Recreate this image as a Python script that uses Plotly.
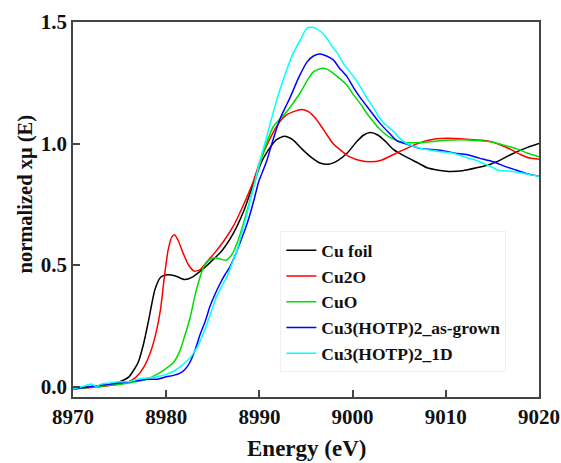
import plotly.graph_objects as go

# ---- data ----
cu_foil_E = [8970, 8972, 8974, 8975, 8976, 8977, 8977.6, 8978.1, 8978.8, 8979.4, 8980.1, 8981, 8982, 8982.8,
             8983.5, 8984.7, 8986, 8987.2, 8988.3, 8989.4, 8990.3, 8990.9, 8991.8, 8992.7, 8993.6, 8994.5,
             8995.5, 8996.5, 8997.4, 8998.4, 8999.4, 9000.5, 9001.2, 9001.9, 9002.7, 9003.5, 9004.4, 9005.5,
             9007, 9008, 9009.2, 9010.3, 9011.8, 9013.3, 9014.8, 9016, 9017, 9018.5, 9020]
cu_foil_mu = [-0.01, 0.0, 0.01, 0.02, 0.04, 0.1, 0.18, 0.27, 0.40, 0.45, 0.46, 0.455, 0.44, 0.45,
              0.47, 0.51, 0.56, 0.63, 0.72, 0.84, 0.93, 0.97, 1.015, 1.03, 1.015, 0.98,
              0.945, 0.92, 0.915, 0.93, 0.96, 1.01, 1.035, 1.045, 1.035, 1.01, 0.975, 0.95,
              0.92, 0.90, 0.89, 0.885, 0.888, 0.90, 0.915, 0.935, 0.955, 0.98, 1.0]

cu2o_E = [8970, 8973, 8975, 8976, 8976.8, 8977.6, 8978.3, 8978.9, 8979.4, 8979.8, 8980.2, 8980.6, 8980.9,
          8981.3, 8981.8, 8982.4, 8983, 8983.6, 8984.3, 8985.2, 8986.2, 8987.2, 8988.2, 8989.3, 8990.1,
          8991, 8992, 8992.8, 8993.6, 8994.6, 8995.3, 8996.1, 8997, 8997.9, 8998.8, 8999.7, 9000.8,
          9001.9, 9003, 9004.4, 9005.8, 9007, 9008, 9009, 9010.1, 9011.5, 9013, 9014.5, 9015.8, 9017,
          9018, 9019, 9020]
cu2o_mu = [-0.01, 0.0, 0.01, 0.02, 0.04, 0.08, 0.14, 0.22, 0.32, 0.45, 0.56, 0.615, 0.625,
           0.60, 0.55, 0.50, 0.475, 0.48, 0.51, 0.55, 0.60, 0.66, 0.74, 0.84, 0.93,
           1.01, 1.08, 1.115, 1.13, 1.14, 1.13, 1.10, 1.05, 1.0, 0.97, 0.945, 0.93,
           0.925, 0.93, 0.955, 0.98, 1.0, 1.012, 1.02, 1.022, 1.02, 1.015, 1.01, 0.995, 0.975,
           0.955, 0.94, 0.935]

cuo_E = [8970, 8974, 8976, 8977.9, 8979, 8980, 8980.8, 8981.5, 8982, 8982.55, 8983, 8983.4, 8984, 8984.6,
         8985.2, 8985.8, 8986.4, 8987, 8987.6, 8988.2, 8988.8, 8989.5, 8990.4, 8991.5, 8992.9, 8994.4,
         8995.3, 8995.8, 8996.7, 8997.3, 8997.9, 8998.7, 8999.4, 9000.1, 9000.8, 9001.8, 9002.9, 9004,
         9005.4, 9007, 9008.5, 9010, 9011.5, 9013.3, 9015.1, 9016.5, 9017.6, 9018.8, 9020]
cuo_mu = [-0.01, 0.005, 0.015, 0.03, 0.05, 0.075, 0.10, 0.15, 0.21, 0.28, 0.36, 0.42, 0.49, 0.52,
          0.53, 0.525, 0.52, 0.54, 0.59, 0.66, 0.74, 0.84, 0.96, 1.07, 1.13, 1.21,
          1.27, 1.295, 1.31, 1.305, 1.29, 1.265, 1.24, 1.20, 1.165, 1.11, 1.06, 1.025,
          1.005, 1.003, 1.008, 1.013, 1.015, 1.012, 1.005, 0.99, 0.978, 0.96, 0.945]

asgrown_E = [8970, 8971, 8972, 8973, 8974, 8975, 8976, 8977, 8978, 8979, 8980, 8980.7, 8981.5, 8982,
             8982.55, 8983.1, 8983.6, 8984.2, 8984.7, 8985.3, 8985.8, 8986.3, 8986.8, 8987.4, 8987.9,
             8988.5, 8989, 8989.5, 8989.9, 8990.4, 8990.8, 8991.5, 8992.2, 8992.8, 8993.3, 8994.2,
             8995.1, 8995.8, 8996.5, 8997.2, 8997.9, 8998.6, 8999.4, 9000.1, 9000.8, 9001.8, 9002.9,
             9004, 9004.8, 9005.6, 9006.4, 9007.2, 9008.5, 9009.7, 9011, 9012.2, 9013.6, 9015.1,
             9016.4, 9017.6, 9018.8, 9020]
asgrown_mu = [-0.01, -0.005, 0.0, 0.005, 0.01, 0.015, 0.02, 0.025, 0.03, 0.03, 0.04, 0.045, 0.055, 0.07,
              0.10, 0.15, 0.21, 0.27, 0.33, 0.385, 0.425, 0.46, 0.49, 0.54, 0.59,
              0.65, 0.71, 0.78, 0.84, 0.89, 0.93, 1.02, 1.10, 1.15, 1.19, 1.27,
              1.335, 1.36, 1.368, 1.36, 1.345, 1.31, 1.275, 1.23, 1.19, 1.14, 1.085,
              1.04, 1.01, 1.0, 0.99, 0.98, 0.975, 0.97, 0.96, 0.955, 0.94, 0.925,
              0.905, 0.89, 0.875, 0.865]

oned_E = [8970, 8971, 8972, 8972.5, 8973, 8974, 8975, 8976, 8977, 8978, 8979, 8980, 8980.9, 8981.8,
          8982.6, 8983.3, 8983.9, 8984.4, 8984.9, 8985.4, 8986, 8986.5, 8987, 8987.6, 8988.1, 8988.6,
          8989.1, 8989.5, 8990, 8990.8, 8991.5, 8992.2, 8992.9, 8993.6, 8994.3, 8995.1, 8995.6, 8996,
          8996.6, 8997.2, 8997.8, 8998.4, 8999, 8999.6, 9000.2, 9000.8, 9001.5, 9002.2, 9002.9, 9003.6,
          9004.4, 9005.1, 9005.8, 9006.8, 9007.95, 9009.3, 9010.8, 9012, 9013.3, 9014.2, 9015.1,
          9015.6, 9016.3, 9017.2, 9018, 9019, 9020]
oned_mu = [-0.01, 0.0, 0.01, 0.0, 0.01, 0.015, 0.02, 0.02, 0.03, 0.035, 0.04, 0.05, 0.065, 0.09,
           0.12, 0.16, 0.21, 0.26, 0.315, 0.37, 0.415, 0.45, 0.50, 0.56, 0.63, 0.70,
           0.78, 0.84, 0.92, 1.03, 1.13, 1.22, 1.30, 1.37, 1.42, 1.475, 1.478, 1.475,
           1.46, 1.435, 1.40, 1.37, 1.33, 1.30, 1.27, 1.235, 1.19, 1.15, 1.105, 1.075,
           1.05, 1.02, 1.0, 0.985, 0.975, 0.967, 0.96, 0.945, 0.93, 0.915, 0.90,
           0.89, 0.888, 0.885, 0.88, 0.872, 0.865]

series = [
    ("Cu foil", cu_foil_E, cu_foil_mu, "#000000"),
    ("Cu2O", cu2o_E, cu2o_mu, "#ff0000"),
    ("CuO", cuo_E, cuo_mu, "#00dd00"),
    ("Cu3(HOTP)2_as-grown", asgrown_E, asgrown_mu, "#0000ff"),
    ("Cu3(HOTP)2_1D", oned_E, oned_mu, "#00ffff"),
]

x_ticks = [8970, 8980, 8990, 9000, 9010, 9020]
y_ticks = [0.0, 0.5, 1.0, 1.5]
y_tick_text = ["0.0", "0.5", "1.0", "1.5"]

FONT = "Liberation Serif"
TXT = "#111111"

fig = go.Figure()
for name, E, mu, col in series:
    fig.add_trace(go.Scatter(x=E, y=mu, mode="lines", name=name,
                             line=dict(color=col, width=1.5, shape="spline", smoothing=0.6)))

axis_common = dict(showline=True, linecolor="#444444", linewidth=1.5, mirror=True,
                   ticks="inside", ticklen=7, tickwidth=1.5, tickcolor="#444444",
                   showgrid=False, zeroline=False, automargin=False,
                   tickfont=dict(family=FONT, size=21, color=TXT, weight="bold"))

fig.update_xaxes(range=[8970, 9020], tickvals=x_ticks, ticktext=[str(v) for v in x_ticks],
                 **axis_common)
fig.update_yaxes(range=[-0.043, 1.5], tickvals=y_ticks, ticktext=y_tick_text,
                 **axis_common)

fig.add_annotation(text="normalized xμ (E)", textangle=-90,
                   xref="paper", yref="paper", x=-0.103, y=0.54,
                   xanchor="center", yanchor="middle", showarrow=False,
                   font=dict(family=FONT, size=20.5, color=TXT, weight="bold"))
fig.add_annotation(text="Energy (eV)",
                   xref="paper", yref="paper", x=0.5, y=-0.136,
                   xanchor="center", yanchor="middle", showarrow=False,
                   font=dict(family=FONT, size=23, color=TXT, weight="bold"))

fig.update_layout(
    width=561, height=463,
    margin=dict(l=73, r=22, t=22, b=66, autoexpand=False),
    paper_bgcolor="white", plot_bgcolor="white",
    font=dict(family=FONT, size=19, color=TXT),
    legend=dict(x=0.445, y=0.442, xanchor="left", yanchor="top",
                bgcolor="rgba(255,255,255,0)", bordercolor="#f0f0f0", borderwidth=1,
                font=dict(family=FONT, size=17.5, color=TXT, weight="bold"),
                tracegroupgap=0, itemwidth=30),
    showlegend=True,
)

fig.write_html("out.html", config={"displayModeBar": False},
               post_script="document.body.style.margin='0';document.body.style.overflow='hidden';")
